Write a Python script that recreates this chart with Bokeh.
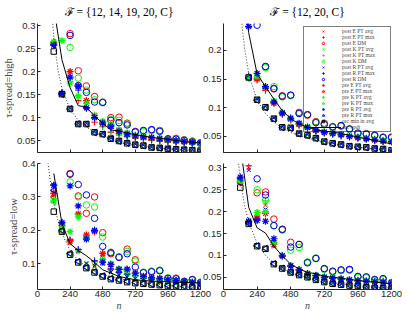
import math
from bokeh.plotting import figure
from bokeh.models import FixedTicker, CustomJSTickFormatter, Legend, LegendItem, Range1d
from bokeh.layouts import row, column
from bokeh.embed import file_html
from bokeh.resources import INLINE

# ---------------- data ----------------
n_vals = [120, 180, 240, 300, 360, 420, 480, 540, 600, 660, 720, 780, 840, 900, 960, 1020, 1080, 1140, 1200]
x_ticks = [0, 240, 480, 720, 960, 1200]

titles = ["\u2131 = {12, 14, 19, 20, C}", "\u2131 = {12, 20, C}"]
row_labels = ["\u03c4-spread=high", "\u03c4-spread=low"]

# ---- top-left  (F = {12,14,19,20,C}, tau-spread high)
tl_sq   = [0.244, 0.151, 0.119, 0.086, 0.086, 0.068, 0.064, 0.054, 0.049, 0.044, 0.041, 0.039, 0.035, 0.034, 0.032, 0.031, 0.030, 0.029, 0.028]
tl_opdt = [0.340, 0.226, 0.165, 0.126, 0.123, 0.103, 0.088, 0.073, 0.071, 0.066, 0.063, 0.060, 0.057, 0.055, 0.053, 0.050, 0.048, 0.046, 0.045]
tl_dot_n = [100, 120, 150, 180, 240, 300, 360, 420, 480, 600, 720, 840, 960, 1080, 1200]
tl_dot_v = [0.350, 0.275, 0.205, 0.163, 0.118, 0.094, 0.079, 0.068, 0.060, 0.049, 0.041, 0.036, 0.032, 0.029, 0.026]
tl_dm_e = [0.420, 0.360, 0.283, 0.202, 0.169, 0.146, 0.133, 0.100, 0.101, 0.088, 0.070, 0.071, 0.073, 0.072, 0.053, 0.055, 0.052, 0.049, 0.044]
tl_dm_k = [0.410, 0.350, 0.253, 0.186, 0.160, 0.139, 0.134, 0.096, 0.094, 0.086, 0.068, 0.070, 0.072, 0.071, 0.052, 0.054, 0.051, 0.048, 0.043]
tl_dm_r = [0.415, 0.355, 0.279, 0.170, 0.155, 0.134, 0.133, 0.094, 0.089, 0.084, 0.069, 0.072, 0.074, 0.070, 0.054, 0.053, 0.050, 0.047, 0.045]
tl_pre_avg_e = [0.262, 0.152, 0.200, 0.169, 0.137, 0.105, 0.090, 0.083, 0.072, 0.065, 0.060, 0.058, 0.055, 0.053, 0.051, 0.049, 0.047, 0.046, 0.044]
tl_pre_avg_k = [0.265, 0.268, 0.175, 0.147, 0.131, 0.104, 0.092, 0.085, 0.074, 0.067, 0.062, 0.060, 0.057, 0.055, 0.052, 0.050, 0.048, 0.047, 0.045]
tl_pre_avg_r = [0.258, 0.153, 0.188, 0.168, 0.121, 0.100, 0.088, 0.081, 0.070, 0.064, 0.060, 0.058, 0.057, 0.054, 0.052, 0.050, 0.048, 0.047, 0.046]
tl_post_avg_e = [0.262, 0.153, 0.121, 0.088, 0.088, 0.070, 0.066, 0.056, 0.051, 0.046, 0.043, 0.041, 0.037, 0.036, 0.034, 0.033, 0.032, 0.031, 0.030]
tl_post_avg_k = [0.265, 0.152, 0.175, 0.087, 0.087, 0.069, 0.065, 0.055, 0.050, 0.045, 0.042, 0.040, 0.036, 0.035, 0.033, 0.032, 0.031, 0.030, 0.029]
tl_post_avg_r = [0.260, 0.152, 0.120, 0.087, 0.087, 0.069, 0.065, 0.056, 0.050, 0.046, 0.042, 0.040, 0.036, 0.035, 0.034, 0.032, 0.031, 0.030, 0.029]
tl_post_max_e = [0.263, 0.155, 0.200, 0.137, 0.120, 0.090, 0.080, 0.068, 0.062, 0.058, 0.055, 0.052, 0.050, 0.048, 0.046, 0.045, 0.044, 0.042, 0.041]
tl_post_max_k = [0.266, 0.154, 0.178, 0.148, 0.130, 0.100, 0.082, 0.070, 0.063, 0.059, 0.056, 0.053, 0.051, 0.049, 0.047, 0.046, 0.044, 0.043, 0.042]
tl_post_max_r = [0.259, 0.153, 0.186, 0.160, 0.122, 0.098, 0.085, 0.077, 0.066, 0.060, 0.057, 0.055, 0.052, 0.050, 0.048, 0.047, 0.045, 0.044, 0.043]
tl_pre_max_e = [0.263, 0.150, 0.119, 0.087, 0.086, 0.068, 0.064, 0.055, 0.049, 0.045, 0.041, 0.039, 0.035, 0.034, 0.033, 0.031, 0.030, 0.029, 0.028]
tl_pre_max_k = [0.262, 0.151, 0.118, 0.086, 0.085, 0.068, 0.064, 0.054, 0.049, 0.044, 0.041, 0.039, 0.035, 0.034, 0.032, 0.031, 0.030, 0.029, 0.028]
tl_pre_max_r = [0.258, 0.151, 0.119, 0.086, 0.086, 0.067, 0.063, 0.054, 0.048, 0.044, 0.040, 0.038, 0.035, 0.033, 0.032, 0.031, 0.030, 0.029, 0.028]

# ---- top-right (F = {12,20,C}, tau-spread high)
tr_sq   = [0.300, 0.153, 0.114, 0.101, 0.081, 0.066, 0.065, 0.055, 0.052, 0.047, 0.041, 0.038, 0.036, 0.033, 0.032, 0.031, 0.029, 0.028, 0.026]
tr_opdt = [0.330, 0.231, 0.159, 0.137, 0.115, 0.095, 0.081, 0.072, 0.066, 0.062, 0.059, 0.058, 0.055, 0.052, 0.049, 0.046, 0.043, 0.040, 0.037]
tr_dot_n = [100, 120, 150, 180, 240, 300, 360, 420, 480, 600, 720, 840, 960, 1080, 1200]
tr_dot_v = [0.330, 0.270, 0.205, 0.160, 0.113, 0.090, 0.075, 0.064, 0.057, 0.047, 0.040, 0.035, 0.031, 0.028, 0.026]
tr_dm_e = [0.400, 0.320, 0.260, 0.172, 0.134, 0.121, 0.122, 0.092, 0.087, 0.076, 0.073, 0.066, 0.068, 0.063, 0.055, 0.055, 0.052, 0.049, 0.048]
tr_dm_k = [0.400, 0.320, 0.262, 0.170, 0.137, 0.119, 0.121, 0.090, 0.088, 0.075, 0.072, 0.066, 0.069, 0.062, 0.054, 0.054, 0.051, 0.048, 0.047]
tr_dm_r = [0.400, 0.320, 0.244, 0.172, 0.133, 0.120, 0.122, 0.090, 0.088, 0.074, 0.071, 0.067, 0.069, 0.063, 0.056, 0.054, 0.052, 0.048, 0.049]
tr_pre_avg_e = [0.300, 0.152, 0.150, 0.135, 0.108, 0.090, 0.080, 0.071, 0.066, 0.061, 0.058, 0.056, 0.053, 0.050, 0.048, 0.046, 0.044, 0.042, 0.041]
tr_pre_avg_k = [0.300, 0.152, 0.155, 0.136, 0.112, 0.092, 0.081, 0.072, 0.067, 0.062, 0.058, 0.056, 0.054, 0.051, 0.049, 0.047, 0.045, 0.043, 0.042]
tr_pre_avg_r = [0.290, 0.242, 0.160, 0.137, 0.110, 0.091, 0.082, 0.073, 0.066, 0.061, 0.057, 0.055, 0.053, 0.050, 0.048, 0.046, 0.044, 0.042, 0.041]
tr_post_avg_e = [0.300, 0.154, 0.116, 0.103, 0.083, 0.068, 0.067, 0.057, 0.054, 0.049, 0.043, 0.040, 0.038, 0.035, 0.034, 0.033, 0.031, 0.030, 0.028]
tr_post_avg_k = [0.300, 0.153, 0.115, 0.102, 0.082, 0.067, 0.066, 0.056, 0.053, 0.048, 0.042, 0.039, 0.037, 0.034, 0.033, 0.032, 0.030, 0.029, 0.027]
tr_post_avg_r = [0.300, 0.153, 0.115, 0.102, 0.082, 0.067, 0.066, 0.056, 0.053, 0.048, 0.042, 0.039, 0.037, 0.034, 0.033, 0.032, 0.030, 0.029, 0.027]
tr_post_max_e = [0.300, 0.240, 0.148, 0.130, 0.108, 0.088, 0.078, 0.068, 0.063, 0.058, 0.055, 0.053, 0.050, 0.048, 0.046, 0.044, 0.042, 0.040, 0.039]
tr_post_max_k = [0.300, 0.155, 0.150, 0.133, 0.110, 0.090, 0.079, 0.070, 0.064, 0.059, 0.056, 0.054, 0.051, 0.049, 0.047, 0.045, 0.043, 0.041, 0.040]
tr_post_max_r = [0.300, 0.156, 0.152, 0.134, 0.111, 0.091, 0.080, 0.071, 0.065, 0.060, 0.057, 0.055, 0.052, 0.050, 0.048, 0.046, 0.044, 0.042, 0.041]
tr_pre_max_e = [0.300, 0.152, 0.113, 0.100, 0.080, 0.066, 0.064, 0.055, 0.051, 0.047, 0.041, 0.038, 0.036, 0.033, 0.032, 0.030, 0.029, 0.028, 0.026]
tr_pre_max_k = [0.300, 0.153, 0.114, 0.101, 0.081, 0.066, 0.065, 0.055, 0.052, 0.047, 0.041, 0.038, 0.036, 0.033, 0.032, 0.031, 0.029, 0.028, 0.026]
tr_pre_max_r = [0.300, 0.152, 0.113, 0.100, 0.080, 0.065, 0.064, 0.054, 0.051, 0.046, 0.040, 0.037, 0.035, 0.033, 0.031, 0.030, 0.029, 0.027, 0.026]

# ---- bottom-left (F = {12,14,19,20,C}, tau-spread low)
bl_sq   = [0.256, 0.196, 0.127, 0.104, 0.087, 0.074, 0.062, 0.054, 0.050, 0.045, 0.042, 0.040, 0.038, 0.036, 0.033, 0.033, 0.031, 0.029, 0.027]
bl_opdt = [0.370, 0.220, 0.160, 0.140, 0.124, 0.104, 0.082, 0.072, 0.062, 0.057, 0.052, 0.050, 0.048, 0.047, 0.046, 0.045, 0.044, 0.043, 0.042]
bl_dot_n = [75, 90, 120, 150, 180, 240, 300, 360, 420, 480, 600, 720, 840, 960, 1080, 1200]
bl_dot_v = [0.410, 0.360, 0.280, 0.230, 0.190, 0.140, 0.110, 0.092, 0.078, 0.068, 0.055, 0.046, 0.040, 0.035, 0.031, 0.028]
bl_dm_e = [0.500, 0.450, 0.370, 0.303, 0.251, 0.300, 0.193, 0.130, 0.120, 0.144, 0.112, 0.074, 0.077, 0.080, 0.057, 0.057, 0.047, 0.052, 0.044]
bl_dm_k = [0.480, 0.440, 0.345, 0.300, 0.276, 0.270, 0.180, 0.135, 0.121, 0.137, 0.108, 0.075, 0.078, 0.081, 0.058, 0.056, 0.048, 0.051, 0.045]
bl_dm_r = [0.490, 0.445, 0.368, 0.337, 0.306, 0.236, 0.152, 0.133, 0.119, 0.130, 0.090, 0.073, 0.076, 0.079, 0.056, 0.055, 0.047, 0.053, 0.043]
bl_pre_avg_e = [0.310, 0.215, 0.168, 0.249, 0.186, 0.196, 0.130, 0.098, 0.083, 0.082, 0.072, 0.063, 0.059, 0.056, 0.052, 0.050, 0.047, 0.045, 0.043]
bl_pre_avg_k = [0.290, 0.210, 0.196, 0.240, 0.175, 0.200, 0.112, 0.100, 0.085, 0.080, 0.070, 0.061, 0.057, 0.055, 0.050, 0.049, 0.046, 0.044, 0.042]
bl_pre_avg_r = [0.335, 0.223, 0.333, 0.273, 0.174, 0.200, 0.105, 0.097, 0.083, 0.084, 0.072, 0.062, 0.058, 0.056, 0.052, 0.050, 0.047, 0.045, 0.043]
bl_post_avg_e = [0.305, 0.210, 0.162, 0.138, 0.100, 0.092, 0.125, 0.075, 0.065, 0.060, 0.055, 0.050, 0.047, 0.045, 0.043, 0.041, 0.039, 0.037, 0.035]
bl_post_avg_k = [0.285, 0.205, 0.165, 0.135, 0.098, 0.090, 0.110, 0.073, 0.064, 0.058, 0.054, 0.049, 0.046, 0.044, 0.042, 0.040, 0.038, 0.036, 0.034]
bl_post_avg_r = [0.330, 0.218, 0.168, 0.140, 0.102, 0.095, 0.100, 0.075, 0.066, 0.060, 0.055, 0.050, 0.047, 0.045, 0.043, 0.041, 0.039, 0.037, 0.035]
bl_post_max_e = [0.315, 0.220, 0.170, 0.142, 0.186, 0.110, 0.132, 0.085, 0.075, 0.070, 0.065, 0.058, 0.054, 0.052, 0.050, 0.048, 0.046, 0.044, 0.042]
bl_post_max_k = [0.295, 0.212, 0.166, 0.138, 0.176, 0.105, 0.115, 0.082, 0.073, 0.068, 0.063, 0.056, 0.053, 0.051, 0.049, 0.047, 0.045, 0.043, 0.041]
bl_post_max_r = [0.335, 0.225, 0.172, 0.143, 0.180, 0.108, 0.105, 0.084, 0.074, 0.069, 0.064, 0.057, 0.054, 0.052, 0.050, 0.048, 0.046, 0.044, 0.042]
bl_pre_max_e = [0.300, 0.198, 0.130, 0.106, 0.089, 0.076, 0.064, 0.056, 0.052, 0.047, 0.044, 0.041, 0.039, 0.037, 0.035, 0.034, 0.032, 0.030, 0.028]
bl_pre_max_k = [0.285, 0.195, 0.128, 0.105, 0.088, 0.075, 0.063, 0.055, 0.051, 0.046, 0.043, 0.040, 0.038, 0.036, 0.034, 0.033, 0.031, 0.029, 0.027]
bl_pre_max_r = [0.320, 0.200, 0.131, 0.107, 0.089, 0.076, 0.064, 0.056, 0.052, 0.047, 0.044, 0.041, 0.039, 0.037, 0.035, 0.034, 0.032, 0.030, 0.028]

# ---- bottom-right (F = {12,20,C}, tau-spread low)
br_sq   = [0.255, 0.172, 0.121, 0.115, 0.080, 0.070, 0.061, 0.055, 0.050, 0.044, 0.039, 0.035, 0.033, 0.031, 0.030, 0.027, 0.026, 0.025, 0.024]
br_opdt = [0.350, 0.210, 0.163, 0.151, 0.121, 0.099, 0.080, 0.069, 0.061, 0.058, 0.052, 0.050, 0.048, 0.045, 0.043, 0.040, 0.039, 0.037, 0.035]
br_dot_n = [100, 120, 150, 180, 240, 300, 360, 420, 480, 600, 720, 840, 960, 1080, 1200]
br_dot_v = [0.330, 0.275, 0.215, 0.175, 0.128, 0.100, 0.082, 0.070, 0.061, 0.049, 0.041, 0.035, 0.031, 0.028, 0.025]
br_dm_e = [0.450, 0.380, 0.243, 0.245, 0.183, 0.160, 0.130, 0.125, 0.084, 0.093, 0.069, 0.063, 0.066, 0.067, 0.051, 0.050, 0.044, 0.046, 0.036]
br_dm_k = [0.440, 0.370, 0.250, 0.226, 0.168, 0.158, 0.112, 0.118, 0.085, 0.094, 0.068, 0.062, 0.065, 0.066, 0.050, 0.049, 0.043, 0.045, 0.035]
br_dm_r = [0.445, 0.375, 0.275, 0.238, 0.168, 0.159, 0.119, 0.125, 0.083, 0.093, 0.070, 0.064, 0.067, 0.068, 0.052, 0.051, 0.045, 0.047, 0.037]
br_pre_avg_e = [0.270, 0.175, 0.185, 0.196, 0.125, 0.099, 0.076, 0.067, 0.058, 0.054, 0.050, 0.048, 0.046, 0.044, 0.042, 0.041, 0.040, 0.039, 0.038]
br_pre_avg_k = [0.272, 0.178, 0.198, 0.200, 0.130, 0.100, 0.077, 0.068, 0.059, 0.055, 0.051, 0.049, 0.047, 0.045, 0.043, 0.042, 0.041, 0.040, 0.039]
br_pre_avg_r = [0.279, 0.178, 0.180, 0.178, 0.138, 0.099, 0.076, 0.067, 0.058, 0.054, 0.050, 0.048, 0.046, 0.044, 0.042, 0.041, 0.040, 0.039, 0.038]
br_post_avg_e = [0.268, 0.300, 0.185, 0.215, 0.120, 0.072, 0.063, 0.057, 0.052, 0.046, 0.041, 0.037, 0.035, 0.033, 0.032, 0.029, 0.028, 0.027, 0.026]
br_post_avg_k = [0.270, 0.174, 0.190, 0.220, 0.122, 0.072, 0.062, 0.056, 0.051, 0.045, 0.040, 0.036, 0.034, 0.032, 0.031, 0.028, 0.027, 0.026, 0.025]
br_post_avg_r = [0.272, 0.295, 0.180, 0.205, 0.123, 0.073, 0.063, 0.057, 0.052, 0.046, 0.041, 0.037, 0.035, 0.033, 0.032, 0.029, 0.028, 0.027, 0.026]
br_post_max_e = [0.265, 0.305, 0.190, 0.196, 0.125, 0.098, 0.075, 0.066, 0.057, 0.053, 0.049, 0.047, 0.045, 0.043, 0.041, 0.040, 0.039, 0.038, 0.037]
br_post_max_k = [0.270, 0.176, 0.198, 0.225, 0.128, 0.097, 0.074, 0.065, 0.056, 0.052, 0.048, 0.046, 0.044, 0.042, 0.040, 0.039, 0.038, 0.037, 0.036]
br_post_max_r = [0.275, 0.178, 0.182, 0.200, 0.130, 0.100, 0.076, 0.067, 0.058, 0.054, 0.050, 0.048, 0.046, 0.044, 0.042, 0.041, 0.040, 0.039, 0.038]
br_pre_max_e = [0.266, 0.173, 0.122, 0.116, 0.081, 0.071, 0.062, 0.056, 0.051, 0.045, 0.040, 0.036, 0.034, 0.032, 0.031, 0.028, 0.027, 0.026, 0.025]
br_pre_max_k = [0.270, 0.172, 0.121, 0.115, 0.080, 0.070, 0.061, 0.055, 0.050, 0.044, 0.039, 0.035, 0.033, 0.031, 0.030, 0.027, 0.026, 0.025, 0.024]
br_pre_max_r = [0.276, 0.173, 0.122, 0.116, 0.081, 0.071, 0.062, 0.056, 0.051, 0.045, 0.040, 0.036, 0.034, 0.032, 0.031, 0.028, 0.027, 0.026, 0.025]

y_ranges = {"tl": (0.024, 0.305), "tr": (0.022, 0.247), "bl": (0.023, 0.400), "br": (0.022, 0.310)}
y_ticks = {"tl": [0.05, 0.1, 0.15, 0.2, 0.25, 0.3], "tr": [0.05, 0.1, 0.15, 0.2],
           "bl": [0.1, 0.2, 0.3, 0.4], "br": [0.05, 0.1, 0.15, 0.2, 0.25, 0.3]}

# ---------------- styles ----------------
RED, GREEN, BLUE, BLACK = "#ff0000", "#00ff00", "#0000ff", "#000000"
series = [  # legend label, key, marker, color
    ("post E PT avg", "post_avg_e", "x", RED),
    ("post E PT max", "post_max_e", "cross", RED),
    ("post E DM", "dm_e", "circle", RED),
    ("post K PT avg", "post_avg_k", "x", GREEN),
    ("post K PT max", "post_max_k", "cross", GREEN),
    ("post K DM", "dm_k", "circle", GREEN),
    ("post R PT avg", "post_avg_r", "x", BLUE),
    ("post R PT max", "post_max_r", "cross", BLUE),
    ("post R DM", "dm_r", "circle", BLUE),
    ("pre E PT avg", "pre_avg_e", "asterisk", RED),
    ("pre E PT max", "pre_max_e", "triangle", RED),
    ("pre K PT avg", "pre_avg_k", "asterisk", GREEN),
    ("pre K PT max", "pre_max_k", "triangle", GREEN),
    ("pre R PT avg", "pre_avg_r", "asterisk", BLUE),
    ("pre R PT max", "pre_max_r", "triangle", BLUE),
    ("orc min in avg", "sq", "square", BLACK),
]
msize = {"x": 5.5, "cross": 6.5, "circle": 6.5, "asterisk": 7, "triangle": 6, "square": 5.5}
mwidth = {"x": 1, "cross": 1, "circle": 1, "asterisk": 1.2, "triangle": 1, "square": 1}

g = globals()
AX_COLOR = "#262626"
TICK_FONT = "Liberation Sans"
SERIF = "Liberation Serif"


def make_panel(key, top, left_col):
    if top:
        h, mb_top, mb_bottom = 166, 23, 14
    else:
        h, mb_top, mb_bottom = 158, 8, 24
    if left_col:
        w, mb_left, mb_right = 216, 41, 12
    else:
        w, mb_left, mb_right = 207, 28, 11
    styles = {}
    if not left_col:
        styles["margin-left"] = "-17px"
    p = figure(width=w, height=h, output_backend="svg", toolbar_location=None,
               x_range=Range1d(0, 1200), y_range=Range1d(*y_ranges[key]),
               min_border_left=mb_left, min_border_right=mb_right,
               min_border_top=mb_top, min_border_bottom=mb_bottom, styles=styles)
    p.border_fill_alpha = 0.0
    p.background_fill_color = "white"
    p.outline_line_color = None
    p.xgrid.visible = False
    p.ygrid.visible = False
    if top:
        p.title.text = titles[0] if left_col else titles[1]
        p.title.align = "center"
        p.title.vertical_align = "top"
        p.title.text_font = SERIF
        p.title.text_font_size = "11.5px"
        p.title.text_font_style = "normal"
        p.title.text_color = "black"
        p.title.standoff = 8

    for ax in (p.xaxis[0], p.yaxis[0]):
        ax.axis_line_color = AX_COLOR
        ax.major_tick_line_color = AX_COLOR
        ax.major_tick_in = 3
        ax.major_tick_out = 0
        ax.minor_tick_in = 0
        ax.minor_tick_out = 0
        ax.major_label_text_font = TICK_FONT
        ax.major_label_text_font_size = "9.5px"
        ax.major_label_text_color = AX_COLOR
        ax.major_label_standoff = 2
    p.xaxis.ticker = FixedTicker(ticks=x_ticks)
    p.yaxis.ticker = FixedTicker(ticks=y_ticks[key])
    p.yaxis.formatter = CustomJSTickFormatter(code="return String(Math.round(tick*1000)/1000);")
    if top:
        p.xaxis.formatter = CustomJSTickFormatter(code="return '';")
        p.xaxis.major_label_standoff = 0
    else:
        p.xaxis.major_label_standoff = 1
        p.xaxis.axis_label = "n"
        p.xaxis.axis_label_text_font = SERIF
        p.xaxis.axis_label_text_font_style = "italic"
        p.xaxis.axis_label_text_font_size = "10px"
        p.xaxis.axis_label_standoff = 0
    if left_col:
        p.yaxis.axis_label = row_labels[0] if top else row_labels[1]
        p.yaxis.axis_label_text_font = SERIF
        p.yaxis.axis_label_text_font_style = "normal"
        p.yaxis.axis_label_text_font_size = "10.5px"
        p.yaxis.axis_label_standoff = 0

    renderers = []
    for label, skey, marker, color in series:
        vals = g[f"{key}_{skey}"]
        r = p.scatter(x=n_vals, y=vals, marker=marker, size=msize[marker],
                      line_color=color, fill_color=None, line_width=mwidth[marker],
                      angle=(math.pi / 2 if marker == "triangle" else 0.0))
        renderers.append((label, r))
    rl = p.line(x=n_vals, y=g[f"{key}_opdt"], line_color="black", line_width=1)
    renderers.append(("orc opdt", rl))
    p.line(x=g[f"{key}_dot_n"], y=g[f"{key}_dot_v"], line_color="#333333",
           line_width=1, line_dash="1 2")
    return p, renderers


tl, _ = make_panel("tl", True, True)
tr, tr_r = make_panel("tr", True, False)
bl, _ = make_panel("bl", False, True)
br, _ = make_panel("br", False, False)

legend = Legend(items=[LegendItem(label=lab, renderers=[r]) for lab, r in tr_r],
                location=(80, 20), orientation="vertical",
                glyph_width=36, glyph_height=6, label_height=6, label_width=47,
                spacing=0, padding=1, margin=0, label_standoff=1,
                label_text_font=SERIF, label_text_font_size="5.5px",
                label_text_color="#444444", label_text_baseline="middle",
                border_line_color="black", border_line_width=1,
                background_fill_alpha=0.0)
tr.add_layout(legend)

top_row = row(tl, tr)
bottom_row = row(bl, br, styles={"margin-top": "-11px"})
layout = column(top_row, bottom_row, styles={"margin-left": "-4px"})
open("out.html", "w").write(file_html(layout, INLINE))
